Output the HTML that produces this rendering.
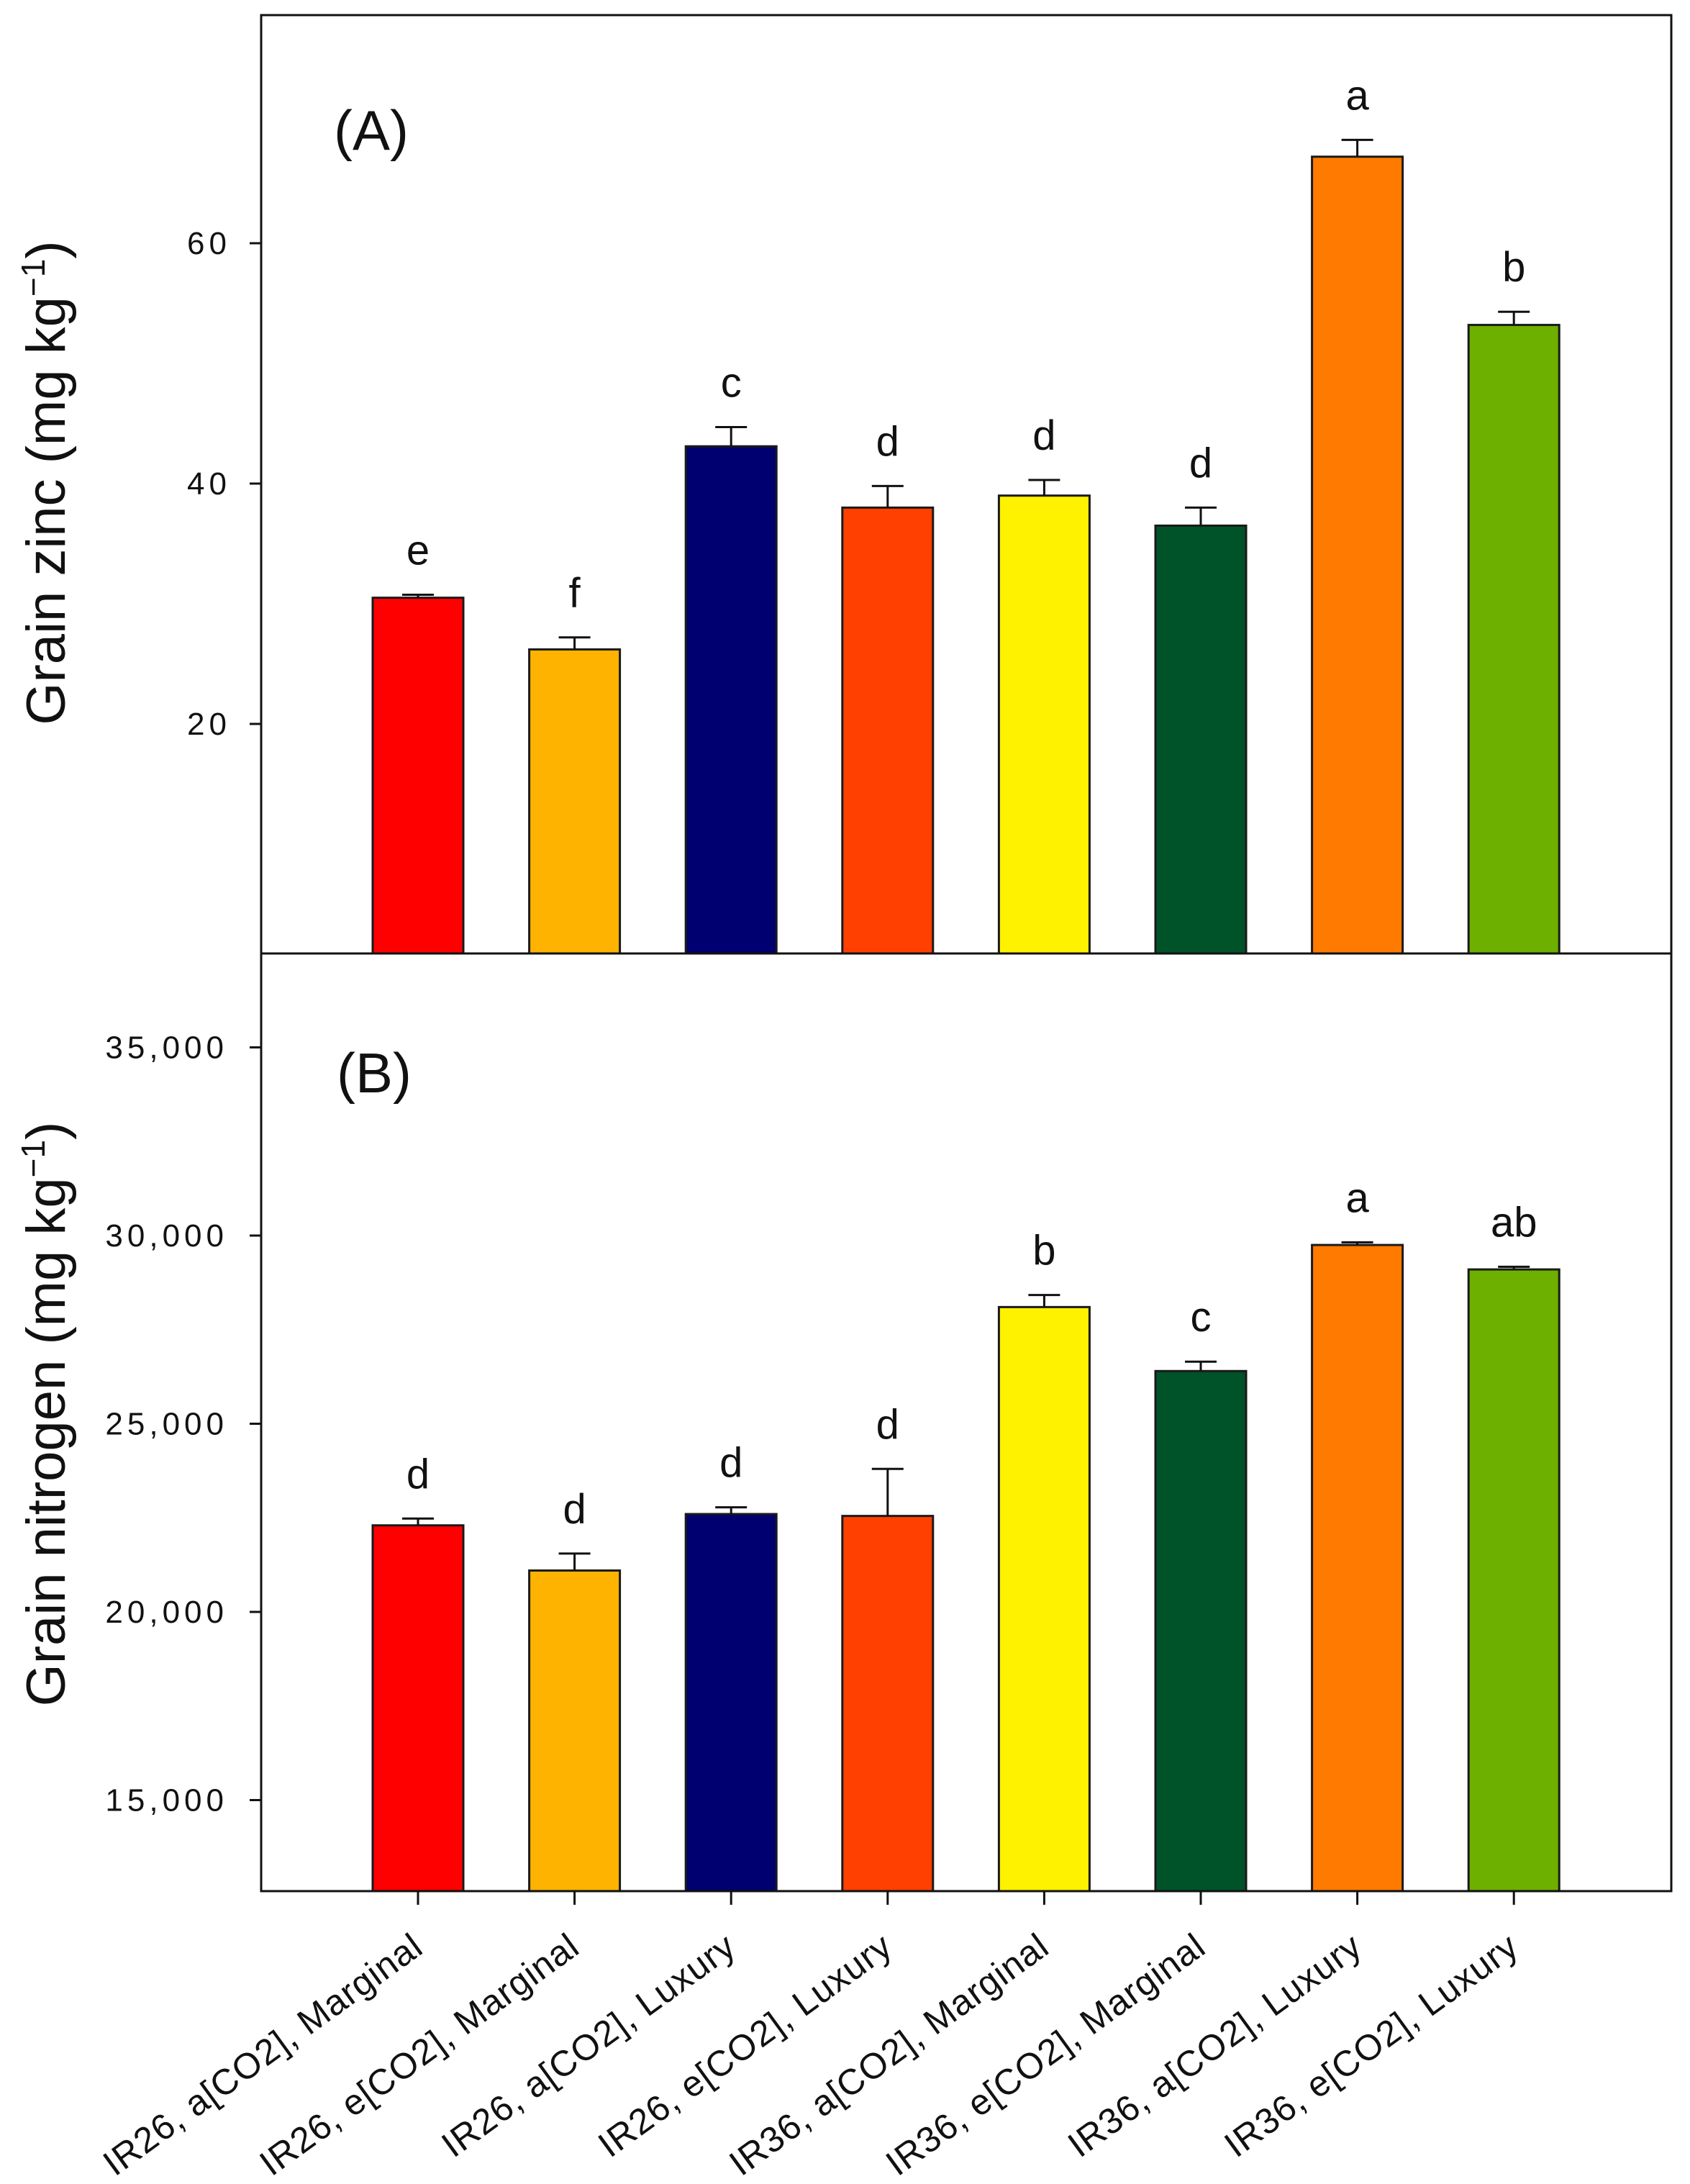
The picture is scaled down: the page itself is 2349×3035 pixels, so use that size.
<!DOCTYPE html>
<html><head><meta charset="utf-8"><style>
html,body{margin:0;padding:0;background:#fff}
svg{display:block}
text{font-family:"Liberation Sans",Arial,sans-serif;fill:#111}
</style></head><body>
<svg id="chart" width="2349" height="3035" viewBox="0 0 2349 3035" xmlns="http://www.w3.org/2000/svg">
<g id="layer"></g>
</svg>
<script>
const categories = ["IR26, a[CO2], Marginal","IR26, e[CO2], Marginal","IR26, a[CO2], Luxury","IR26, e[CO2], Luxury","IR36, a[CO2], Marginal","IR36, e[CO2], Marginal","IR36, a[CO2], Luxury","IR36, e[CO2], Luxury"];
const colors = ["#ff0000","#fdb300","#000070","#ff4000","#fff200","#005228","#ff7a00","#6db000"];
const zincValues = [30.5,26.2,43.1,38.0,39.0,36.5,67.2,53.2];
const zincErrors = [0.25,1.0,1.6,1.8,1.3,1.5,1.4,1.1];
const zincLetters = ["e","f","c","d","d","d","a","b"];
const zincTicks = [20,40,60];
const nitroValues = [22300,21100,22600,22550,28100,26400,29750,29100];
const nitroErrors = [180,450,180,1250,320,250,70,70];
const nitroLetters = ["d","d","d","d","b","c","a","ab"];
const nitroTicks = [15000,20000,25000,30000,35000];
const nitroTickLabels = ["15,000","20,000","25,000","30,000","35,000"];

const NS="http://www.w3.org/2000/svg";
const layer=document.getElementById('layer');
function mk(tag,attrs,parent){const e=document.createElementNS(NS,tag);for(const k in attrs)e.setAttribute(k,attrs[k]);(parent||layer).appendChild(e);return e;}
const L=363,R=2323;
const xC=i=>581+217.6*i;
const BW=126;
const yA=v=>1340-v*16.7;
const yB=v=>2240-(v-20000)*(261.5/5000);

function drawPanel(vals,errs,letters,yf,bottom,pname){
  const g=mk('g',{});
  
  
  vals.forEach((v,i)=>{
    const x=xC(i), top=yf(v);
    const r=mk('rect',{x:x-BW/2,y:top,width:BW,height:bottom-top,fill:colors[i],stroke:'#1a1a1a','stroke-width':3},g);
    
    
    const et=yf(v+errs[i]);
    const e=mk('path',{d:`M${x} ${top}V${et}M${x-22} ${et}H${x+22}`,stroke:'#111','stroke-width':3,fill:'none'},g);
    
    
    const t=mk('text',{x:x,y:et-42,'text-anchor':'middle','font-size':58},g);
    t.textContent=letters[i];
    
    
  });
}
drawPanel(zincValues,zincErrors,zincLetters,yA,1325,'zinc');
drawPanel(nitroValues,nitroErrors,nitroLetters,yB,2628,'nitrogen');

const fr=mk('rect',{x:L,y:21,width:R-L,height:2628-21,fill:'none',stroke:'#111','stroke-width':3});


const dv=mk('line',{x1:L,x2:R,y1:1325,y2:1325,stroke:'#111','stroke-width':3});



zincTicks.forEach((t)=>{
  const y=yA(t);
  const l=mk('line',{x1:L-16,x2:L,y1:y,y2:y,stroke:'#111','stroke-width':3});
  
  
  const tx=mk('text',{x:L-42,y:y+15,'text-anchor':'end','font-size':44,'letter-spacing':6});
  tx.textContent=t;
  
  
});
nitroTicks.forEach((t,i)=>{
  const y=yB(t);
  const l=mk('line',{x1:L-16,x2:L,y1:y,y2:y,stroke:'#111','stroke-width':3});
  
  
  const tx=mk('text',{x:L-46,y:y+15,'text-anchor':'end','font-size':44,'letter-spacing':6});
  tx.textContent=nitroTickLabels[i];
  
  
});
categories.forEach((c,i)=>{
  const x=xC(i);
  const l=mk('line',{x1:x,x2:x,y1:2628,y2:2647,stroke:'#111','stroke-width':3});
  
  
  const ax=x+10, ay=2712;
  const t=mk('text',{x:ax,y:ay,'text-anchor':'end','font-size':50,'letter-spacing':1,transform:`rotate(-36 ${ax} ${ay})`});
  t.textContent=c;
  
  
});
const pa=mk('text',{x:464,y:208,'font-size':78});
pa.textContent='(A)';


const pb=mk('text',{x:468,y:1518,'font-size':78});
pb.textContent='(B)';


const ta=mk('text',{x:0,y:0,'font-size':76,'text-anchor':'middle',transform:'translate(90 671) rotate(-90)'});
ta.innerHTML='Grain zinc (mg kg<tspan dy="-28" font-size="46">−1</tspan><tspan dy="28">)</tspan>';


const tb=mk('text',{x:0,y:0,'font-size':76,'text-anchor':'middle',transform:'translate(90 1965) rotate(-90)'});
tb.innerHTML='Grain nitrogen (mg kg<tspan dy="-28" font-size="46">−1</tspan><tspan dy="28">)</tspan>';


</script>
</body></html>
